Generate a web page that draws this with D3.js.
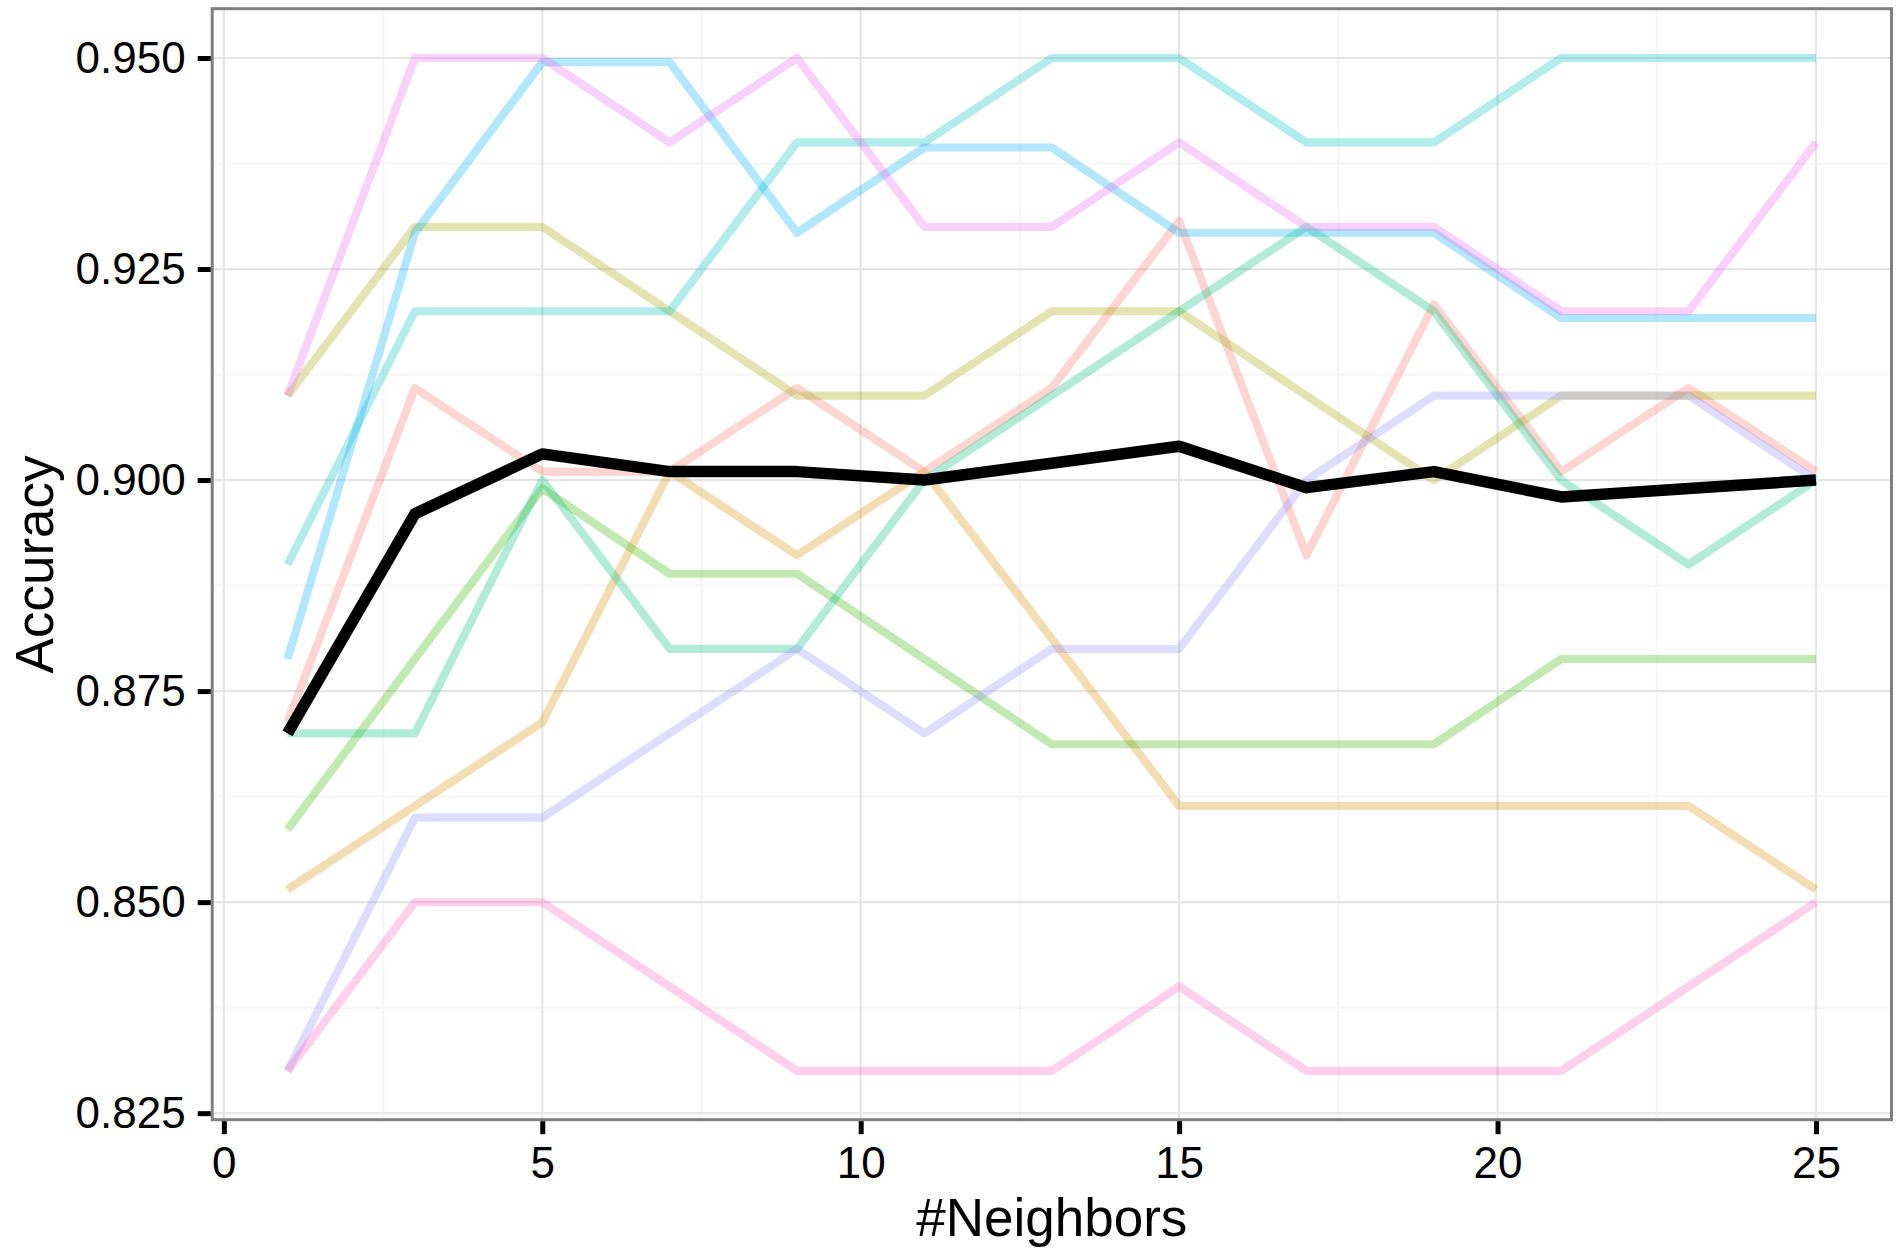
<!DOCTYPE html>
<html>
<head>
<meta charset="utf-8">
<title>Accuracy by neighbors</title>
<script src="https://d3js.org/d3.v7.min.js"></script>
<style>
 body { margin: 0; background: #fff; }
 svg { display: block; font-family: "Liberation Sans", Arial, sans-serif; }
 .grid-major line { stroke: #e5e5e5; stroke-width: 2.2px; }
 .grid-minor line { stroke: #f7f7f7; stroke-width: 2.5px; }
 .fold { fill: none; stroke-width: 8.2px; stroke-opacity: 0.3; stroke-linejoin: round; stroke-linecap: butt; }
 .mean { fill: none; stroke: #000; stroke-width: 11.5px; stroke-linejoin: round; }
 .axis text { font-size: 44px; fill: #000; }
 .axis line { stroke: #000; stroke-width: 5px; }
 .axis-title { font-size: 53px; fill: #000; }
</style>
</head>
<body>
<script>
var width = 1898;
var height = 1249;

// number of neighbors tried
var neighbors = [1, 3, 5, 7, 9, 11, 13, 15, 17, 19, 21, 23, 25];

// accuracy of each fold
var fold1  = [0.8713, 0.9109, 0.9010, 0.9010, 0.9109, 0.9010, 0.9109, 0.9307, 0.8911, 0.9208, 0.9010, 0.9109, 0.9010];
var fold2  = [0.8515, 0.8614, 0.8713, 0.9010, 0.8911, 0.9010, 0.8812, 0.8614, 0.8614, 0.8614, 0.8614, 0.8614, 0.8515];
var fold3  = [0.91, 0.93, 0.93, 0.92, 0.91, 0.91, 0.92, 0.92, 0.91, 0.90, 0.91, 0.91, 0.91];
var fold4  = [0.8586, 0.8788, 0.8990, 0.8889, 0.8889, 0.8788, 0.8687, 0.8687, 0.8687, 0.8687, 0.8788, 0.8788, 0.8788];
var fold5  = [0.87, 0.87, 0.90, 0.88, 0.88, 0.90, 0.91, 0.92, 0.93, 0.92, 0.90, 0.89, 0.90];
var fold6  = [0.89, 0.92, 0.92, 0.92, 0.94, 0.94, 0.95, 0.95, 0.94, 0.94, 0.95, 0.95, 0.95];
var fold7  = [0.8788, 0.9293, 0.9495, 0.9495, 0.9293, 0.9394, 0.9394, 0.9293, 0.9293, 0.9293, 0.9192, 0.9192, 0.9192];
var fold8  = [0.83, 0.86, 0.86, 0.87, 0.88, 0.87, 0.88, 0.88, 0.90, 0.91, 0.91, 0.91, 0.90];
var fold9  = [0.91, 0.95, 0.95, 0.94, 0.95, 0.93, 0.93, 0.94, 0.93, 0.93, 0.92, 0.92, 0.94];
var fold10 = [0.83, 0.85, 0.85, 0.84, 0.83, 0.83, 0.83, 0.84, 0.83, 0.83, 0.83, 0.84, 0.85];

// average over folds
var meanAccuracy = [0.8700, 0.8960, 0.9031, 0.9010, 0.9010, 0.9000, 0.9020, 0.9040, 0.8991, 0.9010, 0.8980, 0.8990, 0.9000];

var foldColors = ['#F8766D', '#D89000', '#A3A500', '#39B600', '#00BF7D',
                  '#00BFC4', '#00B0F6', '#9590FF', '#E76BF3', '#FF62BC'];

var xTicks = [0, 5, 10, 15, 20, 25];
var xMinor = [2.5, 7.5, 12.5, 17.5, 22.5];
var yTicks = [0.825, 0.850, 0.875, 0.900, 0.925, 0.950];
var yMinor = [0.8375, 0.8625, 0.8875, 0.9125, 0.9375];

var folds = [fold1, fold2, fold3, fold4, fold5, fold6, fold7, fold8, fold9, fold10];

var panel = {left: 211.1, right: 1892.4, top: 7.35, bottom: 1121.6};

var x = d3.scaleLinear().domain([-0.2, 26.2]).range([panel.left, panel.right]);
var y = d3.scaleLinear().domain([0.824, 0.956]).range([panel.bottom, panel.top]);

var svg = d3.select('body')
            .append('svg')
            .attr('width', width)
            .attr('height', height);

// grid
var minor = svg.append('g').attr('class', 'grid-minor');
minor.selectAll('.vx')
     .data(xMinor).enter().append('line')
     .attr('x1', d => x(d)).attr('x2', d => x(d))
     .attr('y1', panel.top).attr('y2', panel.bottom);
minor.selectAll('.hy')
     .data(yMinor).enter().append('line')
     .attr('y1', d => y(d)).attr('y2', d => y(d))
     .attr('x1', panel.left).attr('x2', panel.right);

var major = svg.append('g').attr('class', 'grid-major');
major.selectAll('.vx')
     .data(xTicks).enter().append('line')
     .attr('x1', d => x(d)).attr('x2', d => x(d))
     .attr('y1', panel.top).attr('y2', panel.bottom);
major.selectAll('.hy')
     .data(yTicks).enter().append('line')
     .attr('y1', d => y(d)).attr('y2', d => y(d))
     .attr('x1', panel.left).attr('x2', panel.right);

// lines
var line = d3.line()
             .x((d, i) => x(neighbors[i]))
             .y(d => y(d));

svg.append('g')
   .selectAll('path')
   .data(folds)
   .enter()
   .append('path')
   .attr('class', 'fold')
   .attr('stroke', (d, i) => foldColors[i])
   .attr('d', line);

svg.append('path')
   .datum(meanAccuracy)
   .attr('class', 'mean')
   .attr('d', line);

// panel border
svg.append('rect')
   .attr('x', 212.2)
   .attr('y', 8.7)
   .attr('width', 1891.5 - 212.2)
   .attr('height', 1119.7 - 8.7)
   .attr('fill', 'none')
   .attr('stroke', '#7f7f7f')
   .attr('stroke-width', 3);

// axes
var yAxis = svg.append('g')
               .attr('class', 'axis')
               .attr('transform', 'translate(' + 210.7 + ',0)')
               .call(d3.axisLeft(y)
                       .tickValues(yTicks)
                       .tickSize(13)
                       .tickPadding(12)
                       .tickFormat(d3.format('.3f')));
yAxis.select('.domain').remove();

var xAxis = svg.append('g')
               .attr('class', 'axis')
               .attr('transform', 'translate(0,' + 1121.2 + ')')
               .call(d3.axisBottom(x)
                       .tickValues(xTicks)
                       .tickSize(13)
                       .tickPadding(13));
xAxis.select('.domain').remove();

svg.selectAll('.axis text').attr('font-family', null);
svg.selectAll('.axis text').attr('font-size', null);

svg.append('text')
   .attr('class', 'axis-title')
   .attr('x', (panel.left + panel.right) / 2)
   .attr('y', 1236)
   .attr('text-anchor', 'middle')
   .text('#Neighbors');

svg.append('text')
   .attr('class', 'axis-title')
   .attr('transform', 'translate(53,' + ((panel.top + panel.bottom) / 2) + ') rotate(-90)')
   .attr('text-anchor', 'middle')
   .text('Accuracy');
</script>
</body>
</html>
